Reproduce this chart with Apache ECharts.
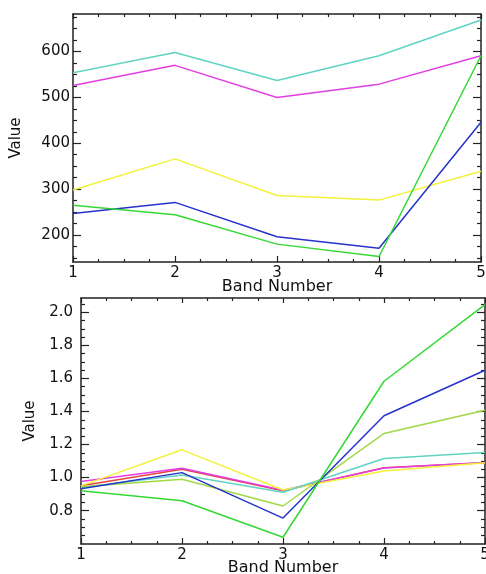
<!DOCTYPE html>
<html>
<head>
<meta charset="utf-8">
<script src="https://cdn.jsdelivr.net/npm/echarts@6/dist/echarts.min.js"></script>
<style>html,body{margin:0;padding:0;background:#fff}#c{width:486px;height:574px}</style>
</head>
<body>
<div id="c"></div>
<script>
// ---- data ----
const bands = [1, 2, 3, 4, 5];
// top panel (raw values)
const topCyan    = [554, 598, 537, 591, 669];
const topMagenta = [526, 570, 500, 529, 591];
const topYellow  = [298, 366, 286, 276, 339];
const topBlue    = [247, 271, 196, 171, 446];
const topGreen   = [265, 244, 180, 153, 591];
// bottom panel (normalised values)
const botRed        = [0.95, 1.05, 0.92, 1.06, 1.09];
const botYellow     = [0.95, 1.168, 0.925, 1.04, 1.09];
const botMagenta    = [0.976, 1.057, 0.923, 1.058, 1.091];
const botCyan       = [0.94, 1.016, 0.911, 1.115, 1.152];
const botLightGreen = [0.945, 0.99, 0.828, 1.267, 1.408];
const botBlue       = [0.932, 1.03, 0.755, 1.374, 1.650];
const botGreen      = [0.92, 0.86, 0.639, 1.583, 2.047];
// tick values
const xMajor = [1, 2, 3, 4, 5];
const xMinor = [1.25, 1.5, 1.75, 2.25, 2.5, 2.75, 3.25, 3.5, 3.75, 4.25, 4.5, 4.75];
const topYMajor = [200, 300, 400, 500, 600];
const topYMinor = [150, 175, 225, 250, 275, 325, 350, 375, 425, 450, 475, 525, 550, 575, 625, 650, 675];
const botYMajor = [0.8, 1.0, 1.2, 1.4, 1.6, 1.8, 2.0];
const botYMinor = [0.65, 0.7, 0.75, 0.85, 0.9, 0.95, 1.05, 1.1, 1.15, 1.25, 1.3, 1.35, 1.45, 1.5, 1.55, 1.65, 1.7, 1.75, 1.85, 1.9, 1.95, 2.05];
const topYRange = [141, 682];
const botYRange = [0.598, 2.087];

const FONT = 'DejaVu Sans';
const AX = '#222';
const C = {
  cyan: '#5fd4c2', magenta: '#e23ee2', yellow: '#f2f23a', blue: '#2533cc',
  green: '#34d834', lightgreen: '#a2d845', red: '#e24444'
};

function xAxes(grid, name, nameGap) {
  const base = {gridIndex: grid, type: 'value', min: 1, max: 5, splitLine: {show: false}};
  return [
    Object.assign({}, base, {position: 'bottom',
      axisLine: {show: true, onZero: false, lineStyle: {color: AX, width: 1.5}},
      axisTick: {show: true, inside: true, length: 6, customValues: xMajor, lineStyle: {color: AX, width: 1.2}},
      axisLabel: {show: true, customValues: xMajor, margin: 4, color: '#111', fontFamily: FONT, fontSize: 15,
        formatter: v => String(v)},
      name: name, nameLocation: 'middle', nameGap: nameGap, nameMoveOverlap: false,
      nameTextStyle: {color: '#111', fontFamily: FONT, fontSize: 16}}),
    Object.assign({}, base, {position: 'bottom',
      axisLine: {show: false, onZero: false},
      axisTick: {show: true, inside: true, length: 3, customValues: xMinor, lineStyle: {color: AX, width: 1.2}},
      axisLabel: {show: false, customValues: xMinor}}),
    Object.assign({}, base, {position: 'top',
      axisLine: {show: true, onZero: false, lineStyle: {color: AX, width: 1.5}},
      axisTick: {show: true, inside: true, length: 5, customValues: xMajor, lineStyle: {color: AX, width: 1.2}},
      axisLabel: {show: false, customValues: xMajor}}),
    Object.assign({}, base, {position: 'top',
      axisLine: {show: false, onZero: false},
      axisTick: {show: true, inside: true, length: 3, customValues: xMinor, lineStyle: {color: AX, width: 1.2}},
      axisLabel: {show: false, customValues: xMinor}})
  ];
}
function yAxes(grid, range, major, minor, nameGap, labelMargin, dec) {
  const base = {gridIndex: grid, type: 'value', min: range[0], max: range[1], splitLine: {show: false}};
  return [
    Object.assign({}, base, {position: 'left',
      axisLine: {show: true, onZero: false, lineStyle: {color: AX, width: 1.5}},
      axisTick: {show: true, inside: true, length: 8, customValues: major, lineStyle: {color: AX, width: 1.2}},
      axisLabel: {show: true, customValues: major, margin: labelMargin, color: '#111', fontFamily: FONT, fontSize: 15,
        formatter: v => v.toFixed(dec)},
      name: 'Value', nameLocation: 'middle', nameGap: nameGap, nameRotate: 90, nameMoveOverlap: false,
      nameTextStyle: {color: '#111', fontFamily: FONT, fontSize: 15}}),
    Object.assign({}, base, {position: 'left',
      axisLine: {show: false, onZero: false},
      axisTick: {show: true, inside: true, length: 4, customValues: minor, lineStyle: {color: AX, width: 1.2}},
      axisLabel: {show: false, customValues: minor}}),
    Object.assign({}, base, {position: 'right',
      axisLine: {show: true, onZero: false, lineStyle: {color: AX, width: 1.5}},
      axisTick: {show: true, inside: true, length: 8, customValues: major, lineStyle: {color: AX, width: 1.2}},
      axisLabel: {show: false, customValues: major}}),
    Object.assign({}, base, {position: 'right',
      axisLine: {show: false, onZero: false},
      axisTick: {show: true, inside: true, length: 4, customValues: minor, lineStyle: {color: AX, width: 1.2}},
      axisLabel: {show: false, customValues: minor}})
  ];
}
function line(vals, color, xi, yi) {
  return {type: 'line', xAxisIndex: xi, yAxisIndex: yi, data: bands.map((b, i) => [b, vals[i]]),
    symbol: 'none', lineStyle: {color: color, width: 1.5}, itemStyle: {color: color}, animation: false, z: 3};
}

const chart = echarts.init(document.getElementById('c'), null, {renderer: 'canvas'});
chart.setOption({
  backgroundColor: '#fff',
  animation: false,
  grid: [
    {left: 73, top: 14, right: 5, height: 248, outerBoundsMode: 'none', containLabel: false},
    {left: 81, top: 298, right: 1, height: 246, outerBoundsMode: 'none', containLabel: false}
  ],
  xAxis: [].concat(xAxes(0, 'Band Number', 17), xAxes(1, 'Band Number', 16)),
  yAxis: [].concat(yAxes(0, topYRange, topYMajor, topYMinor, 49, 3, 0),
                   yAxes(1, botYRange, botYMajor, botYMinor, 43, 8, 1)),
  series: [
    line(topCyan, C.cyan, 0, 0),
    line(topMagenta, C.magenta, 0, 0),
    line(topYellow, C.yellow, 0, 0),
    line(topBlue, C.blue, 0, 0),
    line(topGreen, C.green, 0, 0),
    line(botRed, C.red, 4, 4),
    line(botMagenta, C.magenta, 4, 4),
    line(botYellow, C.yellow, 4, 4),
    line(botCyan, C.cyan, 4, 4),
    line(botLightGreen, C.lightgreen, 4, 4),
    line(botBlue, C.blue, 4, 4),
    line(botGreen, C.green, 4, 4)
  ]
});
</script>
</body>
</html>
